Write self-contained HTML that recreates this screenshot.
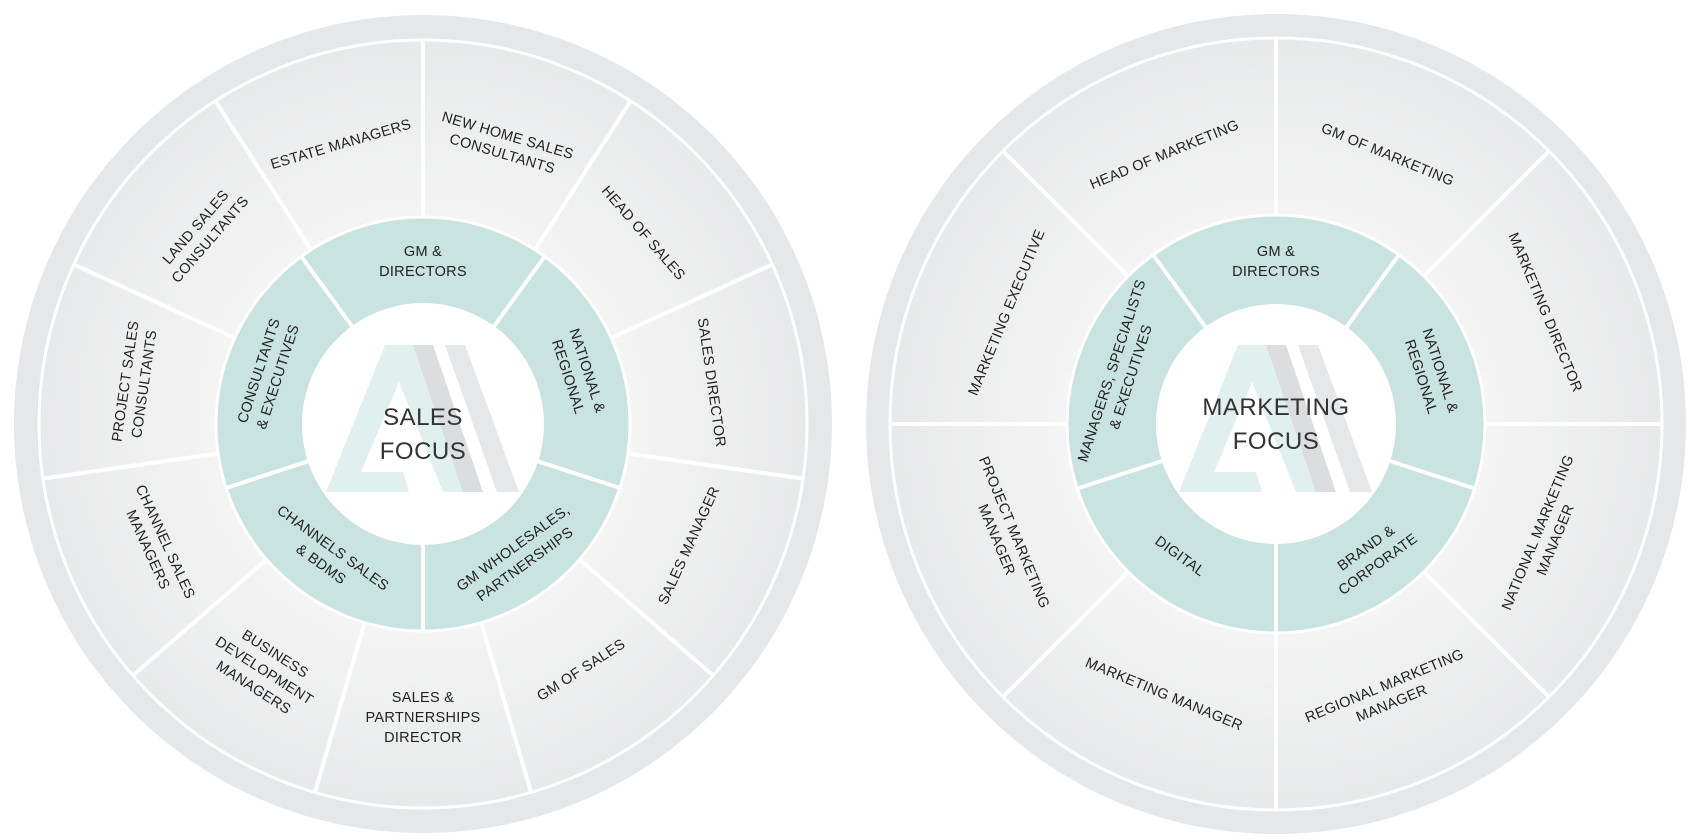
<!DOCTYPE html>
<html><head><meta charset="utf-8"><style>
html,body{margin:0;padding:0;background:#fff;}
svg{display:block}
text{font-family:"Liberation Sans",sans-serif;fill:#222;font-size:14.5px;text-anchor:middle;letter-spacing:0.3px}
.c{font-size:24px;fill:#333;letter-spacing:0.5px}
</style></head><body>
<svg width="1694" height="840" viewBox="0 0 1694 840" xmlns="http://www.w3.org/2000/svg">
<defs>
<radialGradient id="g" cx="0" cy="0" r="384" gradientUnits="userSpaceOnUse">
<stop offset="0.5" stop-color="#f5f5f5"/><stop offset="1" stop-color="#e8e9ea"/>
</radialGradient>
<g id="logo">
<polygon points="-97,68 -38,-79 -8,-79 48,68 20,68 -24,-42 -62,48 -20,48 -14,68" fill="#dff0ee"/>
<polygon points="-10,-79 10,-79 60,68 40,68" fill="#dcdddf"/>
<polygon points="22,-79 42,-79 96,68 74,68" fill="#e6e7e8"/>
</g>
</defs>

<!-- LEFT -->
<g transform="translate(423,424)">
<circle r="409" fill="#e6e7e8"/>
<circle r="384" fill="url(#g)" stroke="#fff" stroke-width="3"/>
<g stroke="#fff" stroke-width="4">
<line x1="0" y1="-205" x2="0" y2="-384" transform="rotate(0)"/>
<line x1="0" y1="-205" x2="0" y2="-384" transform="rotate(32.73)"/>
<line x1="0" y1="-205" x2="0" y2="-384" transform="rotate(65.45)"/>
<line x1="0" y1="-205" x2="0" y2="-384" transform="rotate(98.18)"/>
<line x1="0" y1="-205" x2="0" y2="-384" transform="rotate(130.91)"/>
<line x1="0" y1="-205" x2="0" y2="-384" transform="rotate(163.64)"/>
<line x1="0" y1="-205" x2="0" y2="-384" transform="rotate(196.36)"/>
<line x1="0" y1="-205" x2="0" y2="-384" transform="rotate(229.09)"/>
<line x1="0" y1="-205" x2="0" y2="-384" transform="rotate(261.82)"/>
<line x1="0" y1="-205" x2="0" y2="-384" transform="rotate(294.55)"/>
<line x1="0" y1="-205" x2="0" y2="-384" transform="rotate(327.27)"/>
</g>
<circle r="207" fill="#c8e3e0" stroke="#fff" stroke-width="3"/>
<g stroke="#fff" stroke-width="4">
<line x1="0" y1="-120" x2="0" y2="-208" transform="rotate(36)"/>
<line x1="0" y1="-120" x2="0" y2="-208" transform="rotate(108)"/>
<line x1="0" y1="-120" x2="0" y2="-208" transform="rotate(180)"/>
<line x1="0" y1="-120" x2="0" y2="-208" transform="rotate(252)"/>
<line x1="0" y1="-120" x2="0" y2="-208" transform="rotate(324)"/>
</g>
<circle r="121" fill="#fff"/>
<use href="#logo"/>
<text class="c" y="1">SALES</text>
<text class="c" y="35">FOCUS</text>

<text transform="rotate(16.36) translate(0,-292)"><tspan x="0" dy="-4">NEW HOME SALES</tspan><tspan x="0" dy="19">CONSULTANTS</tspan></text>
<text transform="rotate(49.09) translate(0,-292)" y="5">HEAD OF SALES</text>
<text transform="rotate(81.82) translate(0,-292)" y="5">SALES DIRECTOR</text>
<text transform="rotate(114.55) translate(0,-292) rotate(180)" y="5">SALES MANAGER</text>
<text transform="rotate(147.27) translate(0,-292) rotate(180)" y="5">GM OF SALES</text>
<text transform="rotate(180) translate(0,-292) rotate(180)"><tspan x="0" dy="-14">SALES &amp;</tspan><tspan x="0" dy="20">PARTNERSHIPS</tspan><tspan x="0" dy="20">DIRECTOR</tspan></text>
<text transform="rotate(212.73) translate(0,-292) rotate(180)"><tspan x="0" dy="-14">BUSINESS</tspan><tspan x="0" dy="20">DEVELOPMENT</tspan><tspan x="0" dy="20">MANAGERS</tspan></text>
<text transform="rotate(245.45) translate(0,-292) rotate(180)"><tspan x="0" dy="-4">CHANNEL SALES</tspan><tspan x="0" dy="19">MANAGERS</tspan></text>
<text transform="rotate(278.18) translate(0,-292)"><tspan x="0" dy="-4">PROJECT SALES</tspan><tspan x="0" dy="19">CONSULTANTS</tspan></text>
<text transform="rotate(310.91) translate(0,-292)"><tspan x="0" dy="-4">LAND SALES</tspan><tspan x="0" dy="19">CONSULTANTS</tspan></text>
<text transform="rotate(343.64) translate(0,-292)" y="5">ESTATE MANAGERS</text>

<text transform="rotate(0) translate(0,-163)"><tspan x="0" dy="-5">GM &amp;</tspan><tspan x="0" dy="20">DIRECTORS</tspan></text>
<text transform="rotate(72) translate(0,-163)"><tspan x="0" dy="-5">NATIONAL &amp;</tspan><tspan x="0" dy="20">REGIONAL</tspan></text>
<text transform="rotate(144) translate(0,-163) rotate(180)"><tspan x="0" dy="-5">GM WHOLESALES,</tspan><tspan x="0" dy="20">PARTNERSHIPS</tspan></text>
<text transform="rotate(216) translate(0,-163) rotate(180)"><tspan x="0" dy="-5">CHANNELS SALES</tspan><tspan x="0" dy="20">&amp; BDMS</tspan></text>
<text transform="rotate(288) translate(0,-163)"><tspan x="0" dy="-5">CONSULTANTS</tspan><tspan x="0" dy="20">&amp; EXECUTIVES</tspan></text>
</g>

<!-- RIGHT -->
<g transform="translate(1276,424)">
<circle r="410" fill="#e6e7e8"/>
<circle r="386" fill="url(#g)" stroke="#fff" stroke-width="3"/>
<g stroke="#fff" stroke-width="4">
<line x1="0" y1="-205" x2="0" y2="-386" transform="rotate(0)"/>
<line x1="0" y1="-205" x2="0" y2="-386" transform="rotate(45)"/>
<line x1="0" y1="-205" x2="0" y2="-386" transform="rotate(90)"/>
<line x1="0" y1="-205" x2="0" y2="-386" transform="rotate(135)"/>
<line x1="0" y1="-205" x2="0" y2="-386" transform="rotate(180)"/>
<line x1="0" y1="-205" x2="0" y2="-386" transform="rotate(225)"/>
<line x1="0" y1="-205" x2="0" y2="-386" transform="rotate(270)"/>
<line x1="0" y1="-205" x2="0" y2="-386" transform="rotate(315)"/>
</g>
<circle r="209" fill="#c8e3e0" stroke="#fff" stroke-width="3"/>
<g stroke="#fff" stroke-width="4">
<line x1="0" y1="-119" x2="0" y2="-210" transform="rotate(36)"/>
<line x1="0" y1="-119" x2="0" y2="-210" transform="rotate(108)"/>
<line x1="0" y1="-119" x2="0" y2="-210" transform="rotate(180)"/>
<line x1="0" y1="-119" x2="0" y2="-210" transform="rotate(252)"/>
<line x1="0" y1="-119" x2="0" y2="-210" transform="rotate(324)"/>
</g>
<circle r="120" fill="#fff"/>
<use href="#logo"/>
<text class="c" y="-9">MARKETING</text>
<text class="c" y="25">FOCUS</text>

<text transform="rotate(22.5) translate(0,-292)" y="5">GM OF MARKETING</text>
<text transform="rotate(67.5) translate(0,-292)" y="5">MARKETING DIRECTOR</text>
<text transform="rotate(112.5) translate(0,-292) rotate(180)"><tspan x="0" dy="-4">NATIONAL MARKETING</tspan><tspan x="0" dy="19">MANAGER</tspan></text>
<text transform="rotate(157.5) translate(0,-292) rotate(180)"><tspan x="0" dy="-4">REGIONAL MARKETING</tspan><tspan x="0" dy="19">MANAGER</tspan></text>
<text transform="rotate(202.5) translate(0,-292) rotate(180)" y="5">MARKETING MANAGER</text>
<text transform="rotate(247.5) translate(0,-292) rotate(180)"><tspan x="0" dy="-4">PROJECT MARKETING</tspan><tspan x="0" dy="19">MANAGER</tspan></text>
<text transform="rotate(292.5) translate(0,-292)" y="5">MARKETING EXECUTIVE</text>
<text transform="rotate(337.5) translate(0,-292)" y="5">HEAD OF MARKETING</text>

<text transform="rotate(0) translate(0,-163)"><tspan x="0" dy="-5">GM &amp;</tspan><tspan x="0" dy="20">DIRECTORS</tspan></text>
<text transform="rotate(72) translate(0,-163)"><tspan x="0" dy="-5">NATIONAL &amp;</tspan><tspan x="0" dy="20">REGIONAL</tspan></text>
<text transform="rotate(144) translate(0,-163) rotate(180)"><tspan x="0" dy="-5">BRAND &amp;</tspan><tspan x="0" dy="20">CORPORATE</tspan></text>
<text transform="rotate(216) translate(0,-163) rotate(180)" y="5">DIGITAL</text>
<text transform="rotate(288) translate(0,-163)"><tspan x="0" dy="-5">MANAGERS, SPECIALISTS</tspan><tspan x="0" dy="20">&amp; EXECUTIVES</tspan></text>
</g>
</svg>
</body></html>
